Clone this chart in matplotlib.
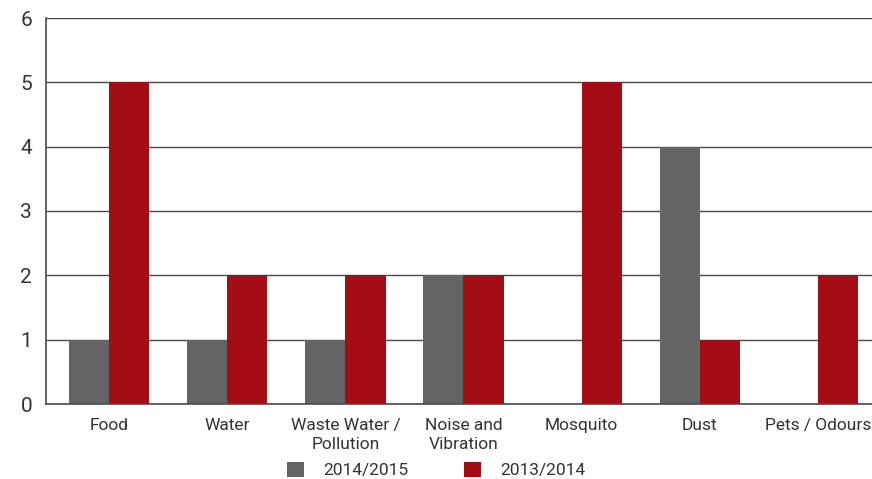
import matplotlib
matplotlib.use("Agg")
import matplotlib.pyplot as plt
import numpy as np

categories = ["Food", "Water", "Waste Water /\nPollution", "Noise and\nVibration",
              "Mosquito", "Dust", "Pets / Odours"]
series_2014_2015 = [1, 1, 1, 2, 0, 4, 0]
series_2013_2014 = [5, 2, 2, 2, 5, 1, 2]
yticks = [0, 1, 2, 3, 4, 5, 6]

GRAY = "#636466"
RED = "#A50D14"
TEXT = "#333333"
LINE = "#4a4a4a"

plt.rcParams["font.family"] = ["Roboto", "DejaVu Sans"]

fig = plt.figure(figsize=(8.72, 4.79), dpi=100)
ax = fig.add_axes([46 / 872, 1 - 404 / 479, 826 / 872, 386 / 479])

x = np.arange(len(categories))
w = 0.34
ax.bar(x - w / 2, series_2014_2015, width=w, color=GRAY, label="2014/2015", zorder=3)
ax.bar(x + w / 2, series_2013_2014, width=w, color=RED, label="2013/2014", zorder=3)

ax.set_xlim(-0.534, 6.458)
ax.set_ylim(0, 6)
ax.set_yticks(yticks)
ax.set_yticklabels([str(t) for t in yticks], fontsize=15, color=TEXT)
ax.set_xticks(x)
ax.set_xticklabels(categories, fontsize=12.5, color=TEXT, linespacing=1.35)
ax.tick_params(axis="both", length=0)
ax.tick_params(axis="y", pad=10)
ax.tick_params(axis="x", pad=10)

ax.yaxis.grid(True, color=LINE, linewidth=1.0, zorder=1)
ax.set_axisbelow(True)
for s in ["top", "right"]:
    ax.spines[s].set_visible(False)
for s in ["left", "bottom"]:
    ax.spines[s].set_color(LINE)
    ax.spines[s].set_linewidth(1.2)
ax.spines["bottom"].set_zorder(4)

leg = fig.legend(loc="center", bbox_to_anchor=(436 / 872, 1 - 470 / 479), ncol=2,
                 frameon=False, fontsize=12.5, handlelength=1.0, handleheight=1.0,
                 columnspacing=3.2, handletextpad=1.1, labelcolor=TEXT)

fig.savefig("out.png", dpi=100)
